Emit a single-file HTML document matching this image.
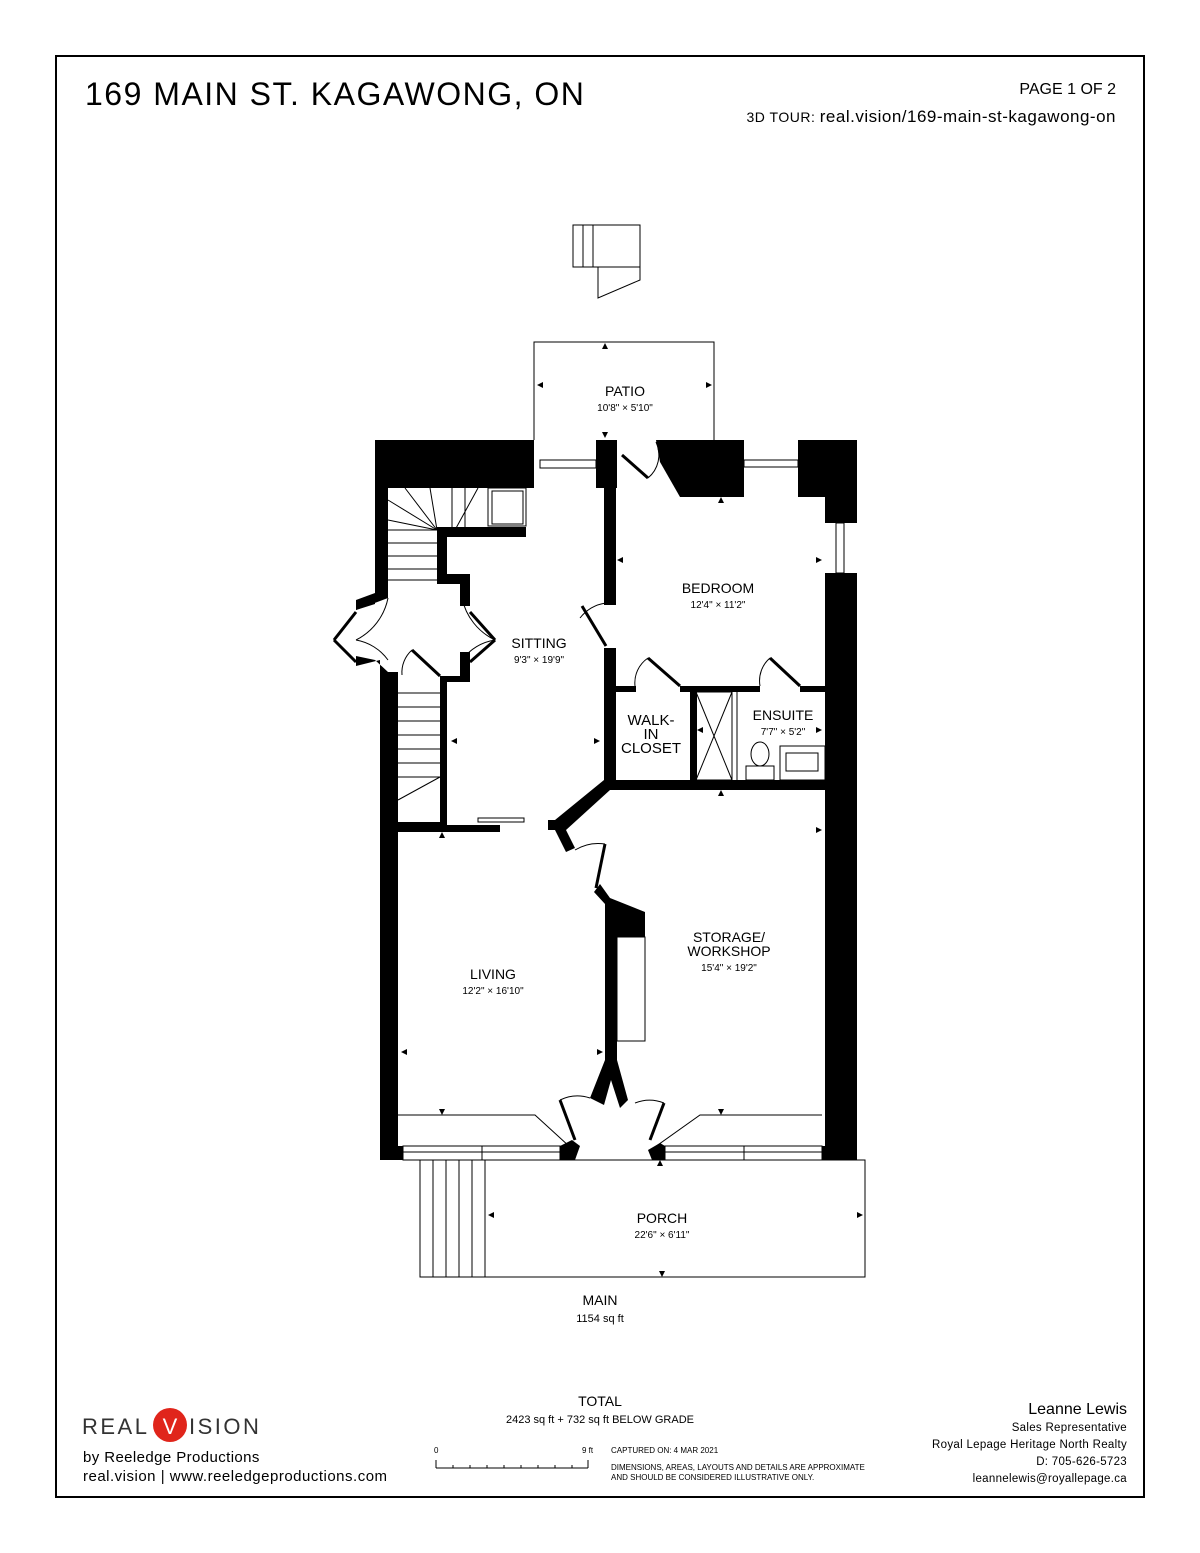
<!DOCTYPE html>
<html><head><meta charset="utf-8"><style>
body{margin:0;background:#fff;}
svg{display:block;font-family:"Liberation Sans","DejaVu Sans",sans-serif;}
</style></head><body>
<svg width="1200" height="1553" viewBox="0 0 1200 1553" xmlns="http://www.w3.org/2000/svg">
<rect x="56" y="56" width="1088" height="1441" fill="none" stroke="#000" stroke-width="2"/>
<text x="85" y="105" font-size="32" letter-spacing="1.5">169 MAIN ST. KAGAWONG, ON</text>
<text x="1116" y="94" font-size="16" text-anchor="end">PAGE 1 OF 2</text>
<text x="1116" y="122" font-size="17" text-anchor="end" letter-spacing="0.5"><tspan font-size="14">3D TOUR: </tspan>real.vision/169-main-st-kagawong-on</text>

<g fill="none" stroke="#000" stroke-width="1">
<rect x="573" y="225" width="67" height="42"/>
<line x1="583" y1="225" x2="583" y2="267"/><line x1="593" y1="225" x2="593" y2="267"/>
<polyline points="598,267 598,298 640,280 640,267"/>
<polyline points="534,440 534,342 714,342 714,440"/>
<rect x="540" y="460" width="56" height="8"/>
<rect x="744" y="460" width="54" height="7"/>
<rect x="836" y="523" width="8" height="50"/>
<rect x="420" y="1160" width="445" height="117"/>
<line x1="433" y1="1160" x2="433" y2="1277"/><line x1="446" y1="1160" x2="446" y2="1277"/>
<line x1="459" y1="1160" x2="459" y2="1277"/><line x1="472" y1="1160" x2="472" y2="1277"/>
<line x1="485" y1="1160" x2="485" y2="1277"/>
<rect x="403" y="1146" width="157" height="14"/><line x1="403" y1="1152" x2="560" y2="1152"/><line x1="482" y1="1146" x2="482" y2="1160"/>
<rect x="665" y="1146" width="157" height="14"/><line x1="665" y1="1152" x2="822" y2="1152"/><line x1="744" y1="1146" x2="744" y2="1160"/>
<polyline points="398,1115 535,1115 570,1147"/>
<polyline points="822,1115 700,1115 655,1147"/>
<line x1="388" y1="500" x2="437" y2="530"/><line x1="388" y1="520" x2="437" y2="530"/>
<line x1="405" y1="488" x2="437" y2="530"/><line x1="430" y1="488" x2="437" y2="530"/>
<line x1="452" y1="488" x2="452" y2="530"/><line x1="465" y1="488" x2="465" y2="530"/><line x1="478" y1="488" x2="455" y2="530"/>
<line x1="388" y1="530" x2="437" y2="530"/><line x1="388" y1="543" x2="437" y2="543"/><line x1="388" y1="556" x2="437" y2="556"/><line x1="388" y1="569" x2="437" y2="569"/><line x1="388" y1="580" x2="437" y2="580"/>
<rect x="488" y="488" width="38" height="38"/><rect x="492" y="491" width="31" height="33"/>
<line x1="398" y1="693" x2="440" y2="693"/><line x1="398" y1="707" x2="440" y2="707"/><line x1="398" y1="721" x2="440" y2="721"/><line x1="398" y1="735" x2="440" y2="735"/><line x1="398" y1="749" x2="440" y2="749"/><line x1="398" y1="763" x2="440" y2="763"/><line x1="398" y1="777" x2="440" y2="777"/>
<line x1="398" y1="800" x2="440" y2="777"/>
<rect x="478" y="818" width="46" height="4"/>
<path d="M356,640 A60,60 0 0,0 388,598"/><path d="M356,640 A50,50 0 0,1 388,660"/>
<path d="M495,640 A60,60 0 0,1 462,598"/><path d="M495,640 A50,50 0 0,0 462,660"/>
<path d="M402,675 A30,30 0 0,1 412,650"/>
<path d="M580,618 A40,40 0 0,1 606,603"/>
<path d="M648,478 A30,30 0 0,0 656,442"/>
<path d="M635,686 A30,30 0 0,1 648,658"/><path d="M760,686 A30,30 0 0,1 770,658"/>
<path d="M575,850 A45,45 0 0,1 605,844"/>
<path d="M560,1100 A40,40 0 0,1 590,1098"/><path d="M635,1103 A40,40 0 0,1 664,1103"/>
<rect x="696" y="692" width="36" height="88"/><line x1="696" y1="692" x2="732" y2="780"/><line x1="732" y1="692" x2="696" y2="780"/>
<line x1="737" y1="692" x2="737" y2="780"/>
<rect x="746" y="766" width="28" height="14"/><ellipse cx="760" cy="754" rx="9" ry="12"/>
<rect x="780" y="746" width="45" height="34"/><rect x="786" y="753" width="32" height="18"/>
<rect x="617" y="937" width="28" height="104"/>
</g>
<g stroke="#000" stroke-width="3" fill="none">
<line x1="334" y1="640" x2="356" y2="612"/><line x1="334" y1="640" x2="356" y2="662"/>
<line x1="495" y1="640" x2="470" y2="612"/><line x1="495" y1="640" x2="470" y2="662"/>
<line x1="412" y1="650" x2="440" y2="676"/>
<line x1="582" y1="606" x2="606" y2="646"/>
<line x1="622" y1="455" x2="648" y2="478"/>
<line x1="648" y1="658" x2="680" y2="686"/><line x1="770" y1="658" x2="800" y2="686"/>
<line x1="605" y1="844" x2="596" y2="888"/>
<line x1="560" y1="1100" x2="575" y2="1140"/><line x1="664" y1="1103" x2="650" y2="1140"/>
</g>
<g fill="#000">
<polygon points="375,440 534,440 534,488 388,488 388,593 375,600 356,600 356,610 375,604 375,440"/>
<polygon points="375,440 388,440 388,598 356,610 356,600 375,593"/>
<polygon points="356,656 375,660 388,672 380,672 380,660 356,666"/>
<rect x="380" y="672" width="18" height="488"/>
<polygon points="437,527 526,527 526,537 447,537 447,574 470,574 470,606 460,606 460,584 437,584"/>
<polygon points="460,652 470,652 470,682 447,682 447,825 500,825 500,832 398,832 398,822 440,822 440,676 460,676"/>
<rect x="596" y="440" width="21" height="48"/>
<rect x="604" y="440" width="12" height="165"/>
<rect x="604" y="648" width="12" height="138"/>
<polygon points="604,780 825,780 825,790 610,790 566,830 575,848 566,852 555,830 548,830 548,820 555,820 604,780"/>
<rect x="610" y="686" width="26" height="6"/><rect x="680" y="686" width="80" height="6"/><rect x="800" y="686" width="25" height="6"/>
<rect x="690" y="686" width="7" height="94"/>
<polygon points="656,440 744,440 744,497 680,497 660,462"/>
<polygon points="798,440 857,440 857,523 825,523 825,497 798,497"/>
<rect x="825" y="573" width="32" height="587"/>
<polygon points="594,892 600,884 610,898 645,912 645,937 617,937 617,1060 628,1100 620,1108 611,1080 604,1105 590,1098 605,1060 605,904"/>
<rect x="380" y="1146" width="23" height="14"/>
<polygon points="560,1146 572,1140 580,1146 575,1160 560,1160"/>
<polygon points="648,1150 660,1143 665,1146 665,1160 652,1160"/>
<rect x="822" y="1146" width="35" height="14"/>
</g>
<g fill="#000">
<polygon points="605,343 602,349 608,349"/><polygon points="605,438 602,432 608,432"/>
<polygon points="537,385 543,382 543,388"/><polygon points="712,385 706,382 706,388"/>
<polygon points="721,497 718,503 724,503"/><polygon points="617,560 623,557 623,563"/><polygon points="822,560 816,557 816,563"/>
<polygon points="721,692 718,686 724,686"/><polygon points="721,790 718,796 724,796"/>
<polygon points="451,741 457,738 457,744"/><polygon points="600,741 594,738 594,744"/>
<polygon points="697,730 703,727 703,733"/><polygon points="822,730 816,727 816,733"/>
<polygon points="442,832 439,838 445,838"/><polygon points="551,826 548,820 554,820"/>
<polygon points="822,830 816,827 816,833"/>
<polygon points="401,1052 407,1049 407,1055"/><polygon points="603,1052 597,1049 597,1055"/>
<polygon points="442,1115 439,1109 445,1109"/><polygon points="721,1115 718,1109 724,1109"/>
<polygon points="488,1215 494,1212 494,1218"/><polygon points="863,1215 857,1212 857,1218"/>
<polygon points="662,1277 659,1271 665,1271"/><polygon points="660,1160 657,1166 663,1166"/>
</g>
<g text-anchor="middle" font-size="14">
<text x="625" y="396">PATIO</text><text x="625" y="411" font-size="10">10'8" × 5'10"</text>
<text x="718" y="593">BEDROOM</text><text x="718" y="608" font-size="10">12'4" × 11'2"</text>
<text x="539" y="648">SITTING</text><text x="539" y="663" font-size="10">9'3" × 19'9"</text>
<text x="651" y="725" font-size="15">WALK-</text><text x="651" y="739" font-size="15">IN</text><text x="651" y="753" font-size="15">CLOSET</text>
<text x="783" y="720">ENSUITE</text><text x="783" y="735" font-size="10">7'7" × 5'2"</text>
<text x="729" y="942">STORAGE/</text><text x="729" y="956">WORKSHOP</text><text x="729" y="971" font-size="10">15'4" × 19'2"</text>
<text x="493" y="979">LIVING</text><text x="493" y="994" font-size="10">12'2" × 16'10"</text>
<text x="662" y="1223">PORCH</text><text x="662" y="1238" font-size="10">22'6" × 6'11"</text>
<text x="600" y="1305">MAIN</text><text x="600" y="1322" font-size="11">1154 sq ft</text>
<text x="600" y="1406">TOTAL</text><text x="600" y="1423" font-size="11">2423 sq ft + 732 sq ft BELOW GRADE</text>
</g>
<text x="82" y="1434" font-size="22" fill="#333" letter-spacing="2.5">REAL</text>
<circle cx="170" cy="1425" r="17" fill="#e0251b"/>
<text x="170" y="1434" font-size="22" fill="#fff" text-anchor="middle">V</text>
<text x="189" y="1434" font-size="22" fill="#333" letter-spacing="2.5">ISION</text>
<text x="83" y="1462" font-size="15" letter-spacing="0.4">by Reeledge Productions</text>
<text x="83" y="1481" font-size="15" letter-spacing="0.5">real.vision | www.reeledgeproductions.com</text>
<text x="434" y="1453" font-size="8">0</text><text x="582" y="1453" font-size="8">9 ft</text>
<g stroke="#000" stroke-width="1"><line x1="436" y1="1468" x2="588" y2="1468"/>
<line x1="436" y1="1460" x2="436" y2="1468"/><line x1="588" y1="1460" x2="588" y2="1468"/>
<line x1="453" y1="1465" x2="453" y2="1468"/><line x1="470" y1="1465" x2="470" y2="1468"/><line x1="487" y1="1465" x2="487" y2="1468"/><line x1="504" y1="1465" x2="504" y2="1468"/><line x1="521" y1="1465" x2="521" y2="1468"/><line x1="538" y1="1465" x2="538" y2="1468"/><line x1="555" y1="1465" x2="555" y2="1468"/><line x1="572" y1="1465" x2="572" y2="1468"/></g>
<text x="611" y="1453" font-size="8">CAPTURED ON: 4 MAR 2021</text>
<text x="611" y="1470" font-size="8">DIMENSIONS, AREAS, LAYOUTS AND DETAILS ARE APPROXIMATE</text>
<text x="611" y="1480" font-size="8">AND SHOULD BE CONSIDERED ILLUSTRATIVE ONLY.</text>
<g text-anchor="end">
<text x="1127" y="1414" font-size="16">Leanne Lewis</text>
<text x="1127" y="1431" font-size="11.5" letter-spacing="0.3">Sales Representative</text>
<text x="1127" y="1448" font-size="11.5" letter-spacing="0.3">Royal Lepage Heritage North Realty</text>
<text x="1127" y="1465" font-size="11.5" letter-spacing="0.3">D: 705-626-5723</text>
<text x="1127" y="1482" font-size="11.5" letter-spacing="0.3">leannelewis@royallepage.ca</text>
</g>
</svg>
</body></html>
